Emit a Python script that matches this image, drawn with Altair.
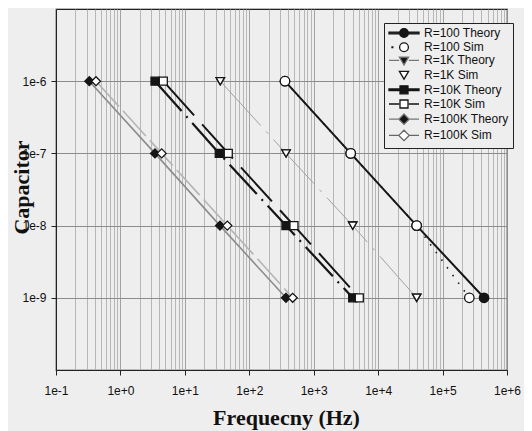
import altair as alt
import pandas as pd

# ---- data ----
caps = [1e-6, 1e-7, 1e-8, 1e-9]
series_names = ["R=100 Theory", "R=100 Sim", "R=1K Theory", "R=1K Sim",
                "R=10K Theory", "R=10K Sim", "R=100K Theory", "R=100K Sim"]
f_r100_theory = [358, 3750, 39600, 440000]
f_r100_sim = [358, 3750, 39600, 260000]
f_r1k_theory = [35.5, 372, 4030, 39600]
f_r1k_sim = [35.5, 372, 4030, 39600]
f_r10k_theory = [3.44, 34.2, 371, 4030]
f_r10k_sim = [4.63, 47.2, 494, 5100]
f_r100k_theory = [0.329, 3.44, 35.1, 371]
f_r100k_sim = [0.418, 4.37, 45.6, 472]

x_ticks = [k * 10.0 ** d for d in range(-1, 6) for k in range(1, 10)] + [1e6]
y_ticks = [1e-9, 1e-8, 1e-7, 1e-6]

freqs = [f_r100_theory, f_r100_sim, f_r1k_theory, f_r1k_sim,
         f_r10k_theory, f_r10k_sim, f_r100k_theory, f_r100k_sim]
rows = []
for name, fl in zip(series_names, freqs):
    for f, c in zip(fl, caps):
        rows.append({"series": name, "freq": f, "cap": c})
df = pd.DataFrame(rows)

# ---- styles ----
BLK = "#151515"
line_style = {
    "R=100 Theory": dict(color=BLK, strokeWidth=2.0),
    "R=100 Sim": dict(color=BLK, strokeWidth=1.6, strokeDash=[1.5, 8]),
    "R=1K Theory": dict(color="#a0a0a0", strokeWidth=1.0, strokeDash=[60, 8, 3, 8]),
    "R=10K Theory": dict(color=BLK, strokeWidth=2.2, strokeDash=[40, 7, 2, 7]),
    "R=10K Sim": dict(color=BLK, strokeWidth=2.0, strokeDash=[46, 12]),
    "R=100K Theory": dict(color="#8c8c8c", strokeWidth=1.6),
    "R=100K Sim": dict(color="#b4b4b4", strokeWidth=1.6, strokeDash=[34, 6]),
}
point_style = {
    "R=100 Theory": dict(shape="circle", fill=BLK, size=90),
    "R=100 Sim": dict(shape="circle", fill="white", size=90),
    "R=1K Theory": dict(shape="triangle-down", fill=BLK, size=70),
    "R=1K Sim": dict(shape="triangle-down", fill="white", size=70),
    "R=10K Theory": dict(shape="square", fill=BLK, size=64),
    "R=10K Sim": dict(shape="square", fill="white", size=64),
    "R=100K Theory": dict(shape="diamond", fill=BLK, size=81),
    "R=100K Sim": dict(shape="diamond", fill="white", size=81),
}

xscale = alt.Scale(type="log", domain=[0.1, 1e6], nice=False)
yscale = alt.Scale(type="log", domain=[1e-10, 1e-5], nice=False)

major_test = "abs(log(datum.value)/LN10 - round(log(datum.value)/LN10)) < 0.001"
exp_lbl = "('1e' + (round(log(datum.value)/LN10) >= 0 ? '+' : '') + round(log(datum.value)/LN10))"

x_axis = alt.Axis(
    values=x_ticks, labelExpr=f"{major_test} ? {exp_lbl} : ''",
    labelOverlap=False, labelFlush=False, grid=True,
    gridColor={"condition": {"test": major_test, "value": "#9a9a9a"}, "value": "#b0b0b0"},
    gridWidth=0.9,
    tickOpacity={"condition": {"test": major_test, "value": 1}, "value": 0},
    tickSize=5, tickColor="#222", labelPadding=10,
    labelFont="Liberation Sans", labelFontSize=12, labelColor="#111",
    domainColor="#222",
    title="Frequecny (Hz)", titleFont="Liberation Serif", titleFontSize=22,
    titleFontWeight="bold", titleColor="#111", titleBaseline="alphabetic",
    titleY=54, titleX=230,
)
y_axis = alt.Axis(
    values=y_ticks, labelExpr=exp_lbl, grid=True, gridColor="#8c8c8c", gridWidth=1,
    tickSize=5, tickColor="#222", labelPadding=5,
    labelFont="Liberation Sans", labelFontSize=12, labelColor="#111",
    domainColor="#222",
    title="Capacitor", titleFont="Liberation Serif", titleFontSize=22,
    titleFontWeight="bold", titleColor="#111", titleBaseline="alphabetic",
    titleX=-28, titleY=178,
)

X = alt.X("freq:Q", scale=xscale, axis=x_axis)
Y = alt.Y("cap:Q", scale=yscale, axis=y_axis)

base = alt.Chart(df)
layers = []
for name in series_names:
    if name not in line_style:
        continue
    layers.append(
        base.transform_filter(alt.datum.series == name)
        .mark_line(**line_style[name])
        .encode(x=X, y=Y)
    )

order = [n for n in series_names if "Theory" in n] + [n for n in series_names if "Sim" in n]
for name in order:
    st = point_style[name]
    layers.append(
        base.transform_filter(alt.datum.series == name)
        .mark_point(shape=st["shape"], filled=True, fill=st["fill"], stroke=BLK,
                    strokeWidth=1.3, size=st["size"], opacity=1)
        .encode(x=X, y=Y)
    )

# ---- legend (symbols = line + marker as custom paths) ----
circ = "M-1.1,0A1.1,1.1 0 1,0 1.1,0A1.1,1.1 0 1,0 -1.1,0Z"
tri = "M-1.15,-0.8H1.15L0,1.15Z"
sq = "M-1,-1H1V1H-1Z"
dia = "M0,-1.3L1.3,0L0,1.3L-1.3,0Z"
thin = "M-3.75,0H-1.2M1.2,0H3.75"
thick = "M-3.75,-0.2H-1.2V0.2H-3.75ZM1.2,-0.2H3.75V0.2H1.2Z"
dot = "M-3.0,-0.1H-2.8V0.1H-3.0Z"
leg_paths = [thick + circ, dot + circ, thin + tri, tri,
             thick + sq, thin + sq, thin + dia, thin + dia]
leg_fill = [BLK, "white", BLK, "white", BLK, "white", BLK, "white"]
leg_stroke = [BLK, BLK, "#777777", BLK, BLK, BLK, "#777777", "#666666"]

leg = alt.Legend(
    title=None, orient="none", legendX=328, legendY=14,
    labelFont="Liberation Sans", labelFontSize=12, labelColor="#111",
    symbolSize=64, symbolStrokeWidth=1.3, symbolOffset=10, labelOffset=14,
    rowPadding=0.2, padding=4, strokeColor="#222", fillColor="#eeeeee",
)
legend_layer = (
    base.transform_filter("false")
    .mark_point(opacity=1, filled=False)
    .encode(
        shape=alt.Shape("series:N", scale=alt.Scale(domain=series_names, range=leg_paths), legend=leg),
        fill=alt.Fill("series:N", scale=alt.Scale(domain=series_names, range=leg_fill), legend=leg),
        stroke=alt.Stroke("series:N", scale=alt.Scale(domain=series_names, range=leg_stroke), legend=leg),
    )
)
layers.append(legend_layer)

chart = (
    alt.layer(*layers)
    .properties(width=451, height=361, autosize="none",
                padding={"left": 48, "top": 1, "right": 17, "bottom": 61},
                background="#eeeeee")
    .configure_view(stroke="#222", strokeWidth=1.2)
)

chart.save("out.html", embed_options={"renderer": "svg", "actions": False})
